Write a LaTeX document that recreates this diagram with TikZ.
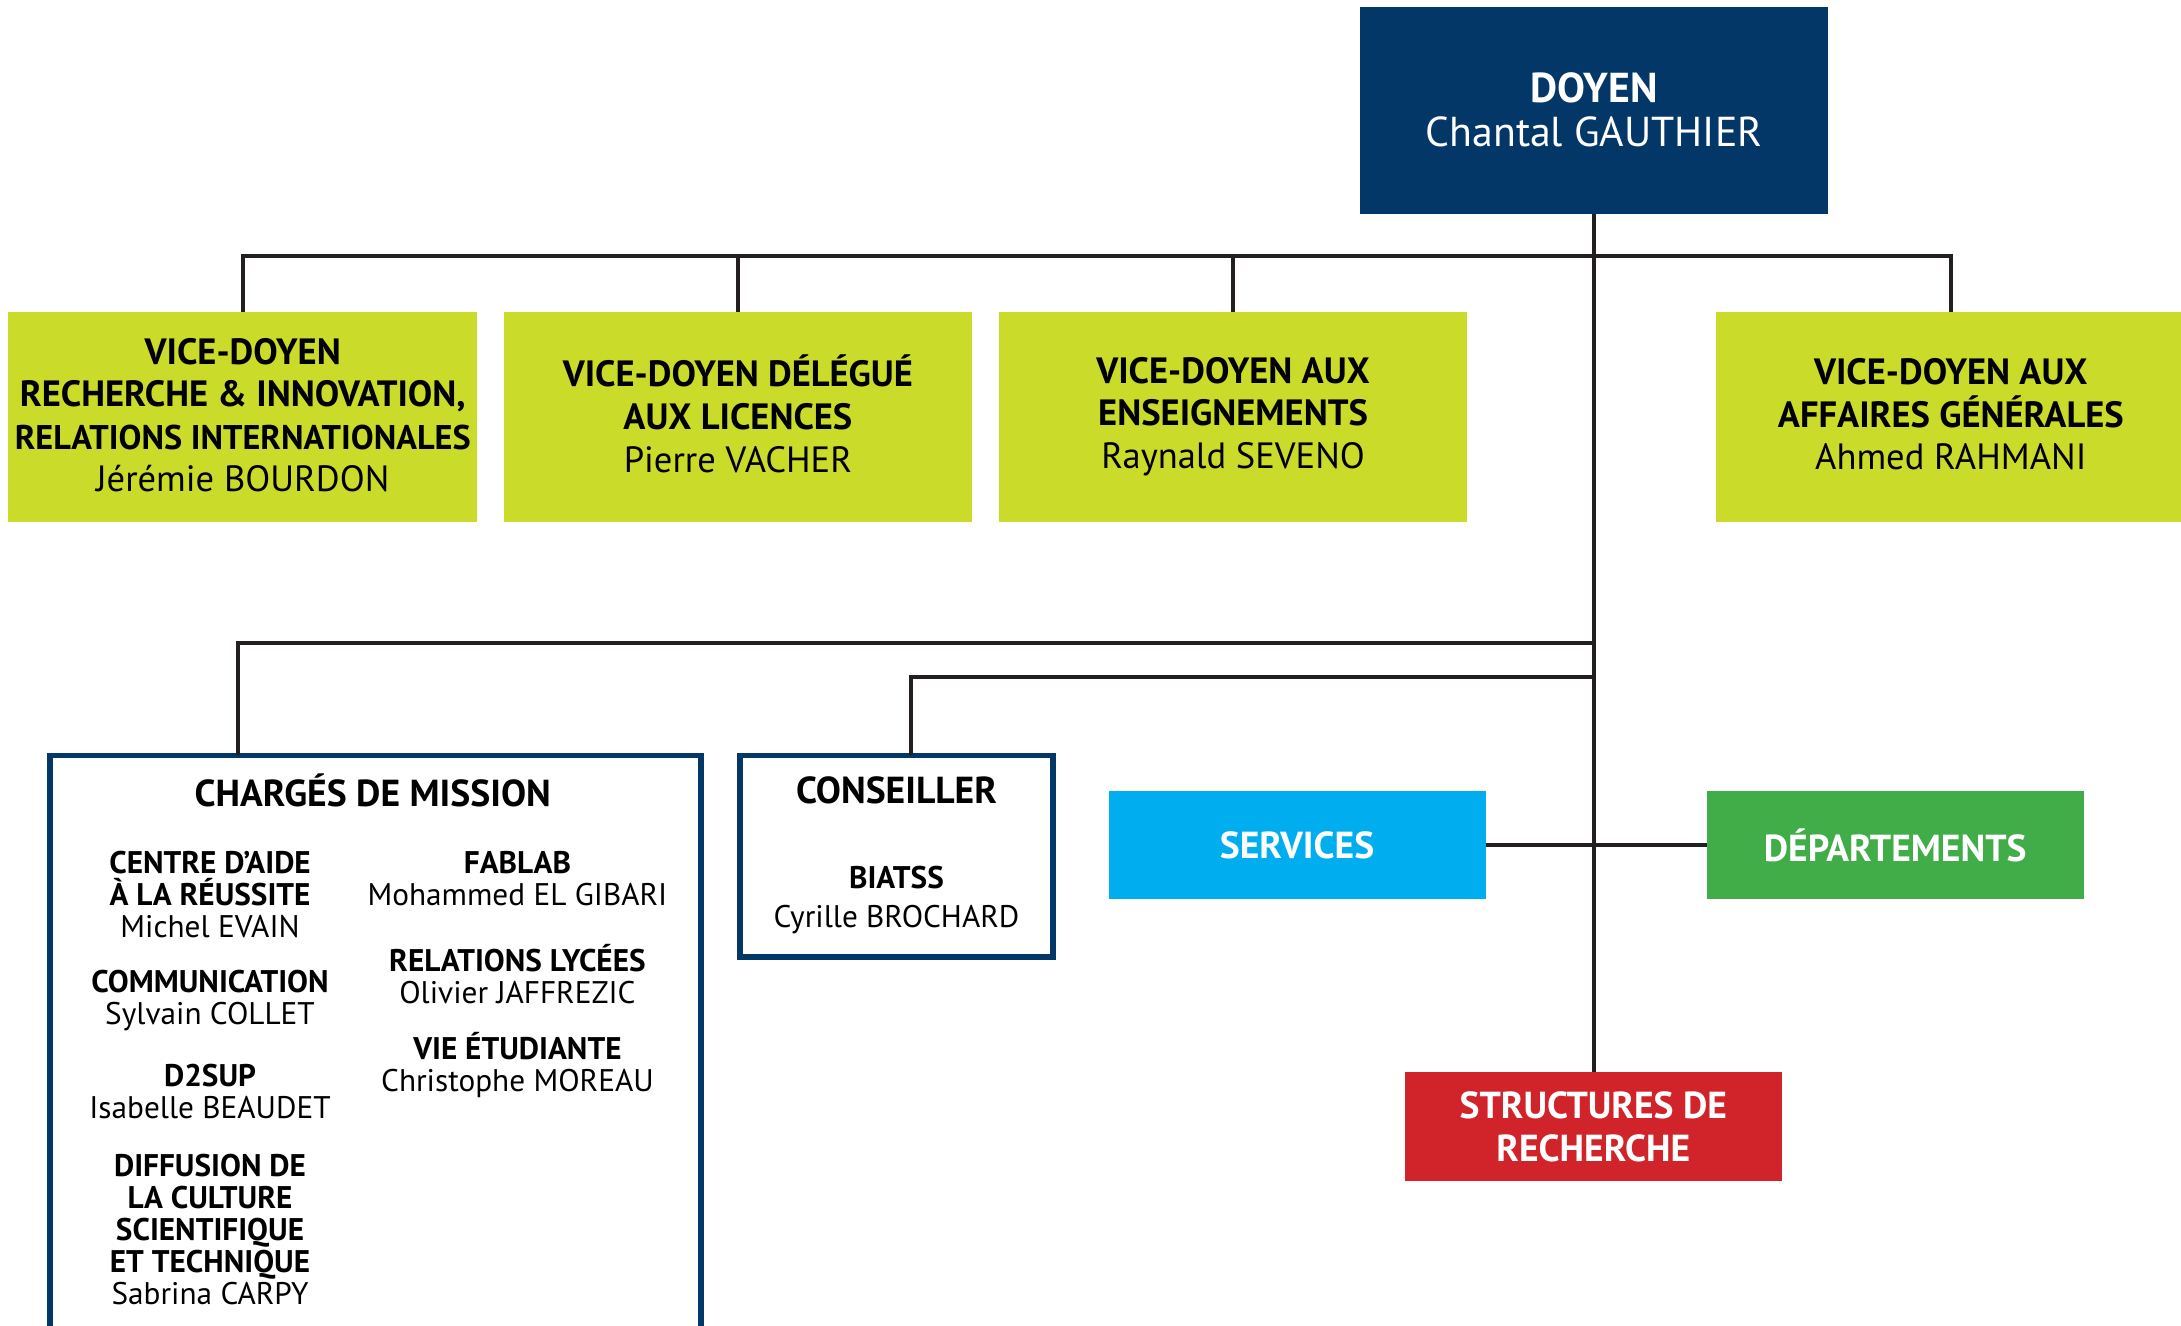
\documentclass[tikz,border=0pt]{standalone}
\usepackage{fontspec}
\setmainfont{PT Sans}
\newlength{\pxu}
\setlength{\pxu}{0.013909cm}
\definecolor{doyenblue}{RGB}{2,55,103}
\definecolor{vdgreen}{RGB}{203,219,42}
\definecolor{servblue}{RGB}{0,174,239}
\definecolor{depgreen}{RGB}{64,173,73}
\definecolor{strred}{RGB}{209,35,42}
\definecolor{linec}{RGB}{35,31,32}
\tikzset{
  box/.style={rectangle, inner sep=0pt, outer sep=0pt, align=center},
  vdbox/.style={box, fill=vdgreen, minimum width=337*\pxu, minimum height=151*\pxu},
  vdtext/.style={align=center, inner sep=0pt, font=\fontsize{10.4}{12.1}\selectfont, text=black},
  colbox/.style={box, minimum width=271*\pxu, minimum height=77*\pxu,
     font=\fontsize{10.7}{12.2}\selectfont\bfseries, text=white},
  framebox/.style={box, draw=doyenblue, line width=1.5pt, fill=white},
  conn/.style={draw=linec, line width=1.15pt},
  small/.style={align=center, inner sep=0pt, font=\fontsize{8.9}{9.1}\selectfont},
  ttl/.style={align=center, inner sep=0pt, font=\fontsize{10.7}{11}\selectfont\bfseries}
}
\begin{document}
\begin{tikzpicture}[x=0.013909cm, y=-0.013909cm]
\useasboundingbox (0,0) rectangle (1568,953);
% boxes
\node[box, fill=doyenblue, minimum width=336*\pxu, minimum height=149*\pxu] (doyen) at (1146,79.5) {};
\node[vdbox] (vd1) at (174.5,299.5) {};
\node[vdbox] (vd2) at (530.5,299.5) {};
\node[vdbox] (vd3) at (886.5,299.5) {};
\node[vdbox] (vd4) at (1402.5,299.5) {};

\node[colbox, fill=servblue] (services) at (932.5,607.5) {SERVICES};
\node[colbox, fill=depgreen] (departements) at (1362.5,607.5) {DÉPARTEMENTS};
\node[colbox, fill=strred, minimum height=78*\pxu] (structures) at (1145.5,810) {STRUCTURES DE\\RECHERCHE};

\node[framebox, minimum width=468*\pxu, minimum height=430*\pxu, anchor=north west] (charges) at (36,543) {};
\node[framebox, minimum width=225*\pxu, minimum height=145*\pxu] (conseiller) at (644.5,615.5) {};

% texts in boxes
\node[align=center, inner sep=0pt, text=white, font=\fontsize{11.9}{12.4}\selectfont] (doyent) at (1146,79)
      {{\bfseries DOYEN}\\Chantal GAUTHIER};
\node[vdtext] (vd1t) at (174.5,298.5) {\textbf{VICE-DOYEN}\\\textbf{RECHERCHE \& INNOVATION,}\\{\fontsize{9.75}{12.1}\selectfont\textbf{RELATIONS INTERNATIONALES}}\\Jérémie BOURDON};
\node[vdtext] (vd2t) at (530.5,297.5) {\textbf{VICE-DOYEN DÉLÉGUÉ}\\\textbf{AUX LICENCES}\\Pierre VACHER};
\node[vdtext] (vd3t) at (886.5,299.5) {\textbf{VICE-DOYEN AUX}\\\textbf{ENSEIGNEMENTS}\\Raynald SEVENO};
\node[vdtext] (vd4t) at (1402.5,298) {\textbf{VICE-DOYEN AUX}\\\textbf{AFFAIRES GÉNÉRALES}\\Ahmed RAHMANI};

% connectors
\coordinate (tb) at (0,184);
\coordinate (sb) at (0,462);
\coordinate (cb) at (0,487);
\draw[conn] (doyen.south) -- (doyen.south |- structures.north);
\draw[conn] (vd1.north) |- (tb -| vd4.north) -- (vd4.north);
\draw[conn] (vd2.north) -- (vd2.north |- tb);
\draw[conn] (vd3.north) -- (vd3.north |- tb);
\draw[conn] ([xshift=135*\pxu]charges.north west) |- (sb -| doyen.south);
\draw[conn] ([xshift=10.5*\pxu]conseiller.north) |- (cb -| doyen.south);
\draw[conn] (services.east) -- (departements.west);

% texts in Chargés de mission
\node[ttl] (ctitle) at (268,568) {CHARGÉS DE MISSION};
\node[small] (c1) at (151,643) {\textbf{CENTRE D’AIDE}\\\textbf{À LA RÉUSSITE}\\Michel EVAIN};
\node[small] (c2) at (151,719.5) {\textbf{COMMUNICATION}\\Sylvain COLLET};
\node[small] (c3) at (151,784.5) {\textbf{D2SUP}\\Isabelle BEAUDET};
\node[small] (c4) at (151,884) {\textbf{DIFFUSION DE}\\\textbf{LA CULTURE}\\\textbf{SCIENTIFIQUE}\\\textbf{ET TECHNIQUE}\\Sabrina CARPY};
\node[small] (r1) at (372,631.5) {\textbf{FABLAB}\\Mohammed EL GIBARI};
\node[small] (r2) at (372,700.5) {\textbf{RELATIONS LYCÉES}\\Olivier JAFFREZIC};
\node[small] (r3) at (372,765.5) {\textbf{VIE ÉTUDIANTE}\\Christophe MOREAU};

% texts in Conseiller
\node[ttl] (stitle) at (644.5,568) {CONSEILLER};
\node[ttl, font=\fontsize{8.9}{9.1}\selectfont\bfseries] (biatss) at (644.5,631) {BIATSS};
\node[small] (brochard) at (644.5,661) {Cyrille BROCHARD};
\end{tikzpicture}
\end{document}
